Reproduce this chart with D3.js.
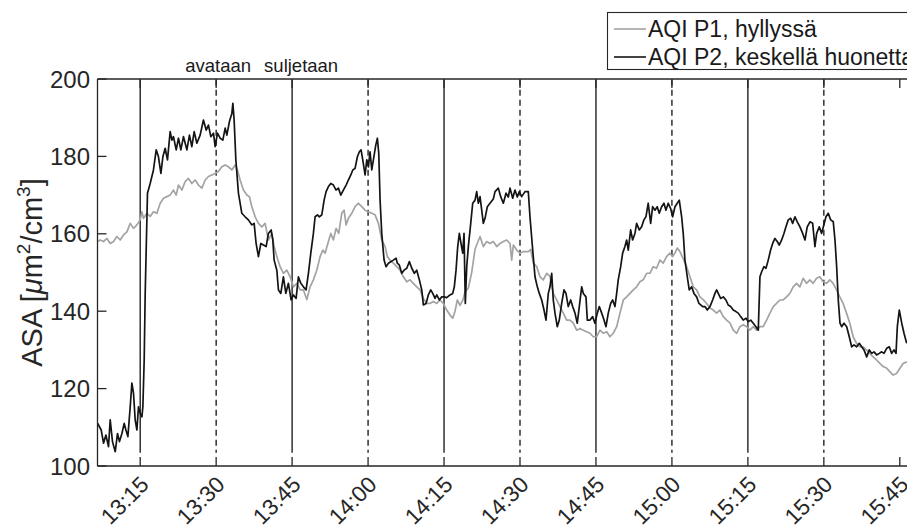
<!DOCTYPE html>
<html>
<head>
<meta charset="utf-8">
<script src="https://cdn.jsdelivr.net/npm/d3@7"></script>
<style>
  html, body { margin: 0; padding: 0; background: #fff; overflow: hidden; }
  svg { display: block; font-family: "Liberation Sans", Arial, Helvetica, sans-serif; }
</style>
</head>
<body>
<svg id="chart" width="907" height="531"></svg>
<script>
// Measurement session: minutes after 13:00 and surface area concentration (µm²/cm³)
const p1Minutes = [6.57,7.11,7.76,8.43,9.08,9.73,10.40,11.05,11.70,12.38,13.03,13.68,14.35,15.00,15.34,15.65,16.32,16.97,17.62,18.30,18.95,19.60,20.27,20.92,21.57,22.11,22.56,23.23,23.88,24.53,25.20,25.86,26.51,27.18,27.83,28.48,29.15,29.80,30.45,31.12,31.78,32.43,33.10,33.75,34.20,34.74,35.39,36.06,36.57,37.05,37.70,38.35,39.02,39.67,40.32,40.99,41.45,41.98,42.63,43.28,43.95,44.61,45.26,45.93,46.58,47.23,47.90,48.55,49.20,49.87,50.53,51.06,51.51,52.17,52.64,53.15,53.68,54.21,54.80,55.26,55.66,56.11,56.78,57.43,58.09,58.76,59.41,60.06,60.73,61.38,62.04,62.70,63.36,63.81,64.34,64.99,65.66,66.32,66.97,67.64,68.29,68.94,69.61,70.26,70.92,71.59,72.24,72.89,73.56,74.21,74.86,75.53,76.18,76.72,77.17,77.63,78.16,78.75,79.14,79.80,80.46,81.12,81.71,82.11,82.76,83.43,84.08,84.73,85.40,86.05,86.71,87.37,88.03,88.36,88.68,89.35,90.00,90.66,91.64,92.12,92.63,93.30,93.95,94.60,95.27,95.92,96.57,97.24,97.89,98.55,99.21,99.87,100.52,101.19,101.84,102.50,103.16,103.82,104.47,105.14,105.79,106.45,107.12,107.77,108.42,109.09,109.74,110.40,111.06,111.71,112.37,113.03,113.68,114.33,115.00,115.66,116.31,116.96,117.63,118.28,118.94,119.60,120.13,120.59,121.05,121.58,122.24,122.91,123.56,124.21,124.88,125.53,126.18,126.85,127.51,128.16,128.83,129.47,130.14,130.80,131.45,132.11,132.78,133.42,134.08,134.75,135.40,136.06,136.72,137.38,138.03,138.70,139.35,140.01,140.66,141.32,141.97,142.64,143.29,143.94,144.61,145.26,145.91,146.58,147.24,147.89,148.56,149.21,149.86,150.53,151.18,151.84,152.51,153.16,153.81,154.48,155.13,155.79,156.46,157.11,157.76,158.43,159.08,159.74,160.41,161.05,161.71,162.38,163.03,163.68,164.35,165.00,165.65,166.38];
const p1Values = [158.0,158.4,158.0,158.8,157.5,158.0,159.3,158.4,159.7,160.5,162.7,161.4,162.3,163.6,165.7,164.0,165.3,164.5,165.7,165.3,167.9,169.2,169.6,170.0,171.3,170.0,172.6,171.3,173.5,174.3,173.0,173.9,172.6,171.8,173.9,174.8,175.2,175.6,176.1,177.3,177.8,177.3,176.5,177.8,176.5,173.9,171.3,170.0,169.6,167.0,164.4,162.7,161.8,162.7,158.4,160.1,156.7,154.1,151.5,149.8,150.6,148.9,146.3,147.2,145.5,145.5,143.0,146.3,148.1,150.6,154.1,155.8,155.0,158.0,160.1,158.4,161.4,160.1,165.3,166.1,162.3,164.0,165.3,167.0,167.9,167.0,166.1,165.7,165.3,164.9,162.7,158.4,156.7,154.1,153.2,152.4,151.5,150.6,148.9,147.6,148.1,147.2,146.3,145.5,143.3,142.0,142.0,142.5,142.0,142.9,142.0,140.3,139.0,138.2,140.0,142.9,141.5,143.0,145.0,146.0,150.0,156.0,158.0,159.3,156.7,158.0,157.5,158.0,156.7,157.5,158.0,158.4,157.5,153.2,157.1,155.8,155.0,155.4,155.4,156.0,152.4,151.5,148.9,148.1,149.8,149.0,144.6,142.9,141.2,139.5,137.7,137.7,136.9,135.1,135.5,135.1,134.7,134.3,133.4,133.4,135.1,134.3,134.7,133.4,134.3,136.0,139.5,142.9,143.7,144.6,145.5,146.3,147.6,148.1,149.8,149.8,151.5,151.1,153.2,152.4,154.1,155.0,154.1,155.0,156.3,155.4,153.5,151.5,148.9,146.3,145.5,143.7,143.0,142.0,140.8,140.3,139.5,140.3,138.6,137.7,137.0,135.1,134.3,136.0,136.5,136.0,135.1,136.0,135.1,136.0,136.0,137.7,139.5,141.2,142.0,142.9,142.9,143.7,144.6,146.3,147.2,146.3,148.5,147.2,148.1,147.2,148.5,148.9,147.6,147.2,148.1,147.2,145.5,143.7,142.0,139.5,136.9,133.4,131.7,130.8,130.8,130.0,129.1,128.2,127.4,126.5,125.7,125.3,124.4,123.5,123.9,125.2,126.5,126.9];

const p2Minutes = [6.61,7.30,7.76,8.23,8.74,9.08,9.53,10.07,10.52,10.91,11.39,11.84,12.18,12.57,13.03,13.36,13.68,14.01,14.35,14.66,15.00,15.34,15.53,15.79,15.99,16.44,16.97,17.62,18.16,18.61,19.09,19.48,19.93,20.39,20.92,21.26,21.57,22.11,22.56,23.03,23.55,24.22,24.73,25.20,25.66,26.19,26.84,27.49,28.03,28.48,28.95,29.47,29.80,30.26,30.79,31.32,31.78,32.11,32.62,33.10,33.30,33.55,33.89,34.40,35.07,35.72,36.37,37.05,37.50,37.89,38.35,38.82,39.34,39.87,40.32,40.86,41.19,41.45,41.98,42.30,42.77,43.28,43.76,44.27,44.80,45.26,45.79,46.24,46.72,47.23,47.76,48.22,48.69,49.20,49.54,49.99,50.39,50.86,51.32,51.71,52.17,52.64,53.15,53.68,54.14,54.61,55.12,55.66,56.11,56.59,56.98,57.43,57.89,58.28,58.62,58.95,59.41,59.74,60.06,60.39,60.73,61.05,61.52,61.84,62.11,62.37,62.70,63.16,63.55,64.01,64.48,64.99,65.53,65.78,66.18,66.65,67.11,67.64,68.15,68.63,69.14,69.61,70.13,70.60,70.92,71.45,71.90,72.38,72.77,73.22,73.56,74.07,74.55,75.00,75.53,76.18,76.72,77.03,77.37,77.70,78.02,78.29,78.69,78.95,79.20,79.48,79.80,80.27,80.66,81.12,81.45,81.77,82.11,82.44,82.76,83.09,83.55,84.08,84.73,85.07,85.72,86.19,86.71,87.24,87.69,88.03,88.56,89.01,89.47,89.86,90.33,90.99,91.64,91.97,92.51,92.96,93.42,93.81,94.28,94.74,95.13,95.59,95.92,96.26,96.57,96.91,97.36,97.76,98.23,98.69,99.08,99.53,100.01,100.40,100.86,101.31,101.71,102.18,102.50,103.03,103.29,103.82,104.35,104.80,105.26,105.66,106.13,106.59,106.98,107.43,107.90,108.30,108.75,109.09,109.40,109.88,110.27,110.72,111.06,111.38,111.85,112.24,112.70,113.03,113.55,114.02,114.47,114.87,115.32,115.80,116.19,116.65,117.10,117.50,117.97,118.43,118.82,119.27,119.75,120.14,120.60,121.05,121.45,121.92,122.24,122.57,123.03,123.42,123.90,124.35,124.88,125.34,126.07,126.52,126.98,127.51,128.04,128.50,128.83,129.15,129.62,130.14,130.67,131.12,131.60,132.11,132.64,133.10,133.57,134.08,134.62,135.07,135.55,136.06,136.59,137.05,137.38,137.72,138.17,138.57,139.02,139.49,139.89,140.34,140.80,141.19,141.67,142.12,142.52,142.97,143.45,143.84,144.30,144.75,145.28,145.82,146.27,146.72,147.26,147.79,148.24,148.58,149.09,149.57,150.00,150.42,150.87,151.35,151.86,152.20,152.53,152.85,153.19,153.52,153.97,154.51,155.02,155.49,155.95,156.48,157.00,157.47,157.93,158.46,158.97,159.45,159.90,160.43,160.95,161.42,161.88,162.41,162.92,163.40,163.85,164.25,164.51,164.90,165.38,165.83,166.36];
const p2Values = [111.0,109.3,105.9,108.0,105.0,111.9,106.3,103.7,108.4,106.3,108.4,111.0,109.3,107.6,115.3,121.4,118.8,111.9,109.3,115.3,113.6,112.7,115.3,127.4,144.7,170.5,173.0,176.5,181.7,179.9,175.6,179.9,182.1,179.1,186.4,184.2,185.1,181.7,184.7,181.7,185.1,181.7,185.5,182.5,186.4,183.4,185.5,189.4,186.8,188.1,185.1,186.0,182.5,186.0,184.7,184.2,187.3,185.5,189.0,191.1,193.7,189.4,179.1,170.5,165.3,164.4,163.6,162.3,162.7,157.5,154.1,157.5,157.1,156.7,160.1,161.0,158.4,153.2,150.6,145.5,144.6,148.9,144.6,147.2,142.9,144.2,143.3,148.9,147.2,146.3,145.5,149.8,155.0,160.1,164.4,164.9,164.4,164.9,168.7,170.9,172.2,173.0,172.6,171.3,171.8,170.0,171.3,172.6,173.9,175.2,176.5,176.9,179.9,181.2,181.7,179.1,175.2,179.1,177.3,181.2,176.5,179.1,182.9,184.7,180.8,168.7,160.1,153.2,151.5,152.4,152.8,153.2,153.7,152.4,151.9,149.8,150.6,151.1,152.8,151.1,149.8,150.6,148.1,145.5,141.6,142.0,144.2,145.5,144.6,143.3,144.2,142.9,143.7,143.7,143.5,144.2,144.6,146.3,150.6,156.7,160.1,158.0,155.0,160.1,142.0,151.5,156.7,162.7,167.9,168.7,170.9,167.9,169.6,166.1,162.7,164.0,167.0,167.9,169.0,170.9,171.8,169.6,167.9,170.5,169.5,171.8,169.2,171.3,169.5,170.9,169.6,170.9,170.9,164.4,155.8,148.9,146.3,144.6,142.9,140.3,137.7,144.6,146.3,149.8,142.9,139.5,136.0,137.7,142.0,145.5,144.6,141.2,142.9,141.2,139.5,136.9,141.2,146.3,144.6,143.7,137.7,137.7,138.6,136.9,139.5,141.2,139.5,137.7,136.0,139.5,142.0,142.9,141.2,144.6,148.1,151.5,155.0,156.7,158.4,155.8,161.0,158.4,160.1,162.7,161.0,161.8,163.6,164.4,167.9,162.7,167.0,166.1,167.0,165.3,167.0,167.9,166.1,167.9,166.5,164.4,167.0,167.9,168.7,164.4,160.0,153.2,148.9,145.5,146.3,144.6,143.7,142.0,141.2,141.2,140.3,141.2,142.9,144.6,145.5,144.6,143.3,143.7,142.9,141.6,141.2,140.3,139.9,139.5,138.6,137.7,138.2,137.3,137.7,136.9,136.0,135.1,148.9,150.2,151.5,151.1,153.2,155.8,157.5,158.8,158.0,157.1,158.4,160.1,161.8,163.6,164.0,162.7,164.4,163.1,161.8,160.1,158.4,161.8,163.1,162.7,156.7,160.1,161.8,160.1,162.3,164.4,165.3,163.6,163.1,158.4,151.5,142.9,136.9,136.0,136.9,136.0,133.4,130.8,131.3,130.8,131.7,130.8,130.0,128.2,130.0,129.1,129.5,128.7,129.1,129.5,129.1,130.4,130.8,129.1,130.0,129.1,136.0,140.3,136.9,134.3,131.7];

// Window closed (solid) and opened (dashed) moments
const closeTimes = ["13:15", "13:45", "14:15", "14:45", "15:15"];
const openTimes = ["13:30", "14:00", "14:30", "15:00", "15:30"];
const xTickLabels = ["13:15","13:30","13:45","14:00","14:15","14:30","14:45","15:00","15:15","15:30","15:45"];
const yTicks = [100, 120, 140, 160, 180, 200];
const seriesNames = ["AQI P1, hyllyssä", "AQI P2, keskellä huonetta"];
const eventNames = ["avataan", "suljetaan"];

const day = new Date(2020, 0, 1);
const atMinute = m => new Date(day.getTime() + (13 * 60 + m) * 60000);
const atClock = s => { const [h, m] = s.split(":").map(Number); return atMinute((h - 13) * 60 + m); };

const plot = { left: 97.5, top: 79, right: 915, bottom: 466 };
const axisColor = "#262626";
const tickLen = 9;

const svg = d3.select("#chart");
svg.append("rect").attr("width", 907).attr("height", 531).attr("fill", "#fff");

const x = d3.scaleTime()
  .domain([atMinute(6.57), atMinute(168)])
  .range([plot.left, plot.right]);
const y = d3.scaleLinear().domain([100, 200]).range([plot.bottom, plot.top]);

svg.append("clipPath").attr("id", "plotClip")
  .append("rect").attr("x", plot.left).attr("y", plot.top)
  .attr("width", plot.right - plot.left).attr("height", plot.bottom - plot.top);

// Event lines
const evTop = 199.8, evBottom = 103.4;
const ev = svg.append("g");
ev.selectAll("line.close").data(closeTimes).join("line")
  .attr("x1", d => x(atClock(d))).attr("x2", d => x(atClock(d)))
  .attr("y1", y(evTop)).attr("y2", y(evBottom))
  .attr("stroke", "#111").attr("stroke-width", 1.3);
ev.selectAll("line.open").data(openTimes).join("line")
  .attr("x1", d => x(atClock(d))).attr("x2", d => x(atClock(d)))
  .attr("y1", y(evTop)).attr("y2", y(evBottom))
  .attr("stroke", "#111").attr("stroke-width", 1.3)
  .attr("stroke-dasharray", "6,4");

// Series
const line = d3.line().x(d => x(atMinute(d[0]))).y(d => y(d[1]));
const p1 = p1Minutes.map((m, i) => [m, p1Values[i]]);
const p2 = p2Minutes.map((m, i) => [m, p2Values[i]]);
const series = svg.append("g").attr("clip-path", "url(#plotClip)");
series.append("path").datum(p1).attr("d", line)
  .attr("fill", "none").attr("stroke", "#a3a3a3").attr("stroke-width", 1.7).attr("stroke-linejoin", "round");
series.append("path").datum(p2).attr("d", line)
  .attr("fill", "none").attr("stroke", "#141414").attr("stroke-width", 1.7).attr("stroke-linejoin", "round");

// Axes box
const axes = svg.append("g").attr("stroke", axisColor).attr("stroke-width", 1.3);
axes.append("line").attr("x1", plot.left).attr("x2", plot.right).attr("y1", plot.bottom).attr("y2", plot.bottom);
axes.append("line").attr("x1", plot.left).attr("x2", plot.right).attr("y1", plot.top).attr("y2", plot.top);
axes.append("line").attr("x1", plot.left).attr("x2", plot.left).attr("y1", plot.top).attr("y2", plot.bottom);
axes.append("line").attr("x1", plot.right).attr("x2", plot.right).attr("y1", plot.top).attr("y2", plot.bottom);

// x ticks (inward, bottom and top)
const xt = xTickLabels.map(atClock);
axes.selectAll("line.xb").data(xt).join("line")
  .attr("x1", d => x(d)).attr("x2", d => x(d)).attr("y1", plot.bottom).attr("y2", plot.bottom - tickLen);
axes.selectAll("line.xt").data(xt).join("line")
  .attr("x1", d => x(d)).attr("x2", d => x(d)).attr("y1", plot.top).attr("y2", plot.top + tickLen);
// y ticks (inward)
axes.selectAll("line.yl").data(yTicks).join("line")
  .attr("x1", plot.left).attr("x2", plot.left + tickLen).attr("y1", d => y(d)).attr("y2", d => y(d));

const fmt = d3.timeFormat("%H:%M");
svg.append("g").selectAll("text").data(xt).join("text")
  .attr("transform", d => `translate(${x(d) + 10},${plot.bottom + 20}) rotate(-45)`)
  .attr("text-anchor", "end")
  .attr("font-size", 22.5).attr("fill", "#262626")
  .text(d => fmt(d));

svg.append("g").selectAll("text").data(yTicks).join("text")
  .attr("x", 90).attr("y", d => y(d)).attr("dy", "0.36em")
  .attr("text-anchor", "end").attr("font-size", 24).attr("fill", "#262626")
  .text(d => d);

// y label
const yl = svg.append("text")
  .attr("transform", `translate(42,${(plot.top + plot.bottom) / 2}) rotate(-90)`)
  .attr("text-anchor", "middle").attr("font-size", 29).attr("fill", "#262626");
yl.append("tspan").text("ASA [");
yl.append("tspan").attr("font-style", "italic").text("μ");
yl.append("tspan").text("m");
yl.append("tspan").attr("font-size", 19).attr("dy", -12).text("2");
yl.append("tspan").attr("dy", 12).text("/cm");
yl.append("tspan").attr("font-size", 19).attr("dy", -12).text("3");
yl.append("tspan").attr("dy", 12).text("]");

// Event labels above the axes
svg.append("text").attr("x", x(atClock(openTimes[0])) + 2).attr("y", 72)
  .attr("text-anchor", "middle").attr("font-size", 18.5).attr("fill", "#1a1a1a").text(eventNames[0]);
svg.append("text").attr("x", x(atClock(closeTimes[1])) - 28).attr("y", 72)
  .attr("text-anchor", "start").attr("font-size", 18.5).attr("fill", "#1a1a1a").text(eventNames[1]);

// Legend
const lg = svg.append("g");
lg.append("rect").attr("x", 607.5).attr("y", 12.5).attr("width", 340).attr("height", 57)
  .attr("fill", "#fff").attr("stroke", axisColor).attr("stroke-width", 1.1);
const legendColors = ["#a3a3a3", "#141414"];
seriesNames.forEach((name, i) => {
  const yy = 29 + i * 28;
  lg.append("line").attr("x1", 614).attr("x2", 646).attr("y1", yy).attr("y2", yy)
    .attr("stroke", legendColors[i]).attr("stroke-width", 1.6);
  lg.append("text").attr("x", 648).attr("y", yy + 8).attr("font-size", 23)
    .attr("fill", "#1a1a1a").text(name);
});
</script>
</body>
</html>
